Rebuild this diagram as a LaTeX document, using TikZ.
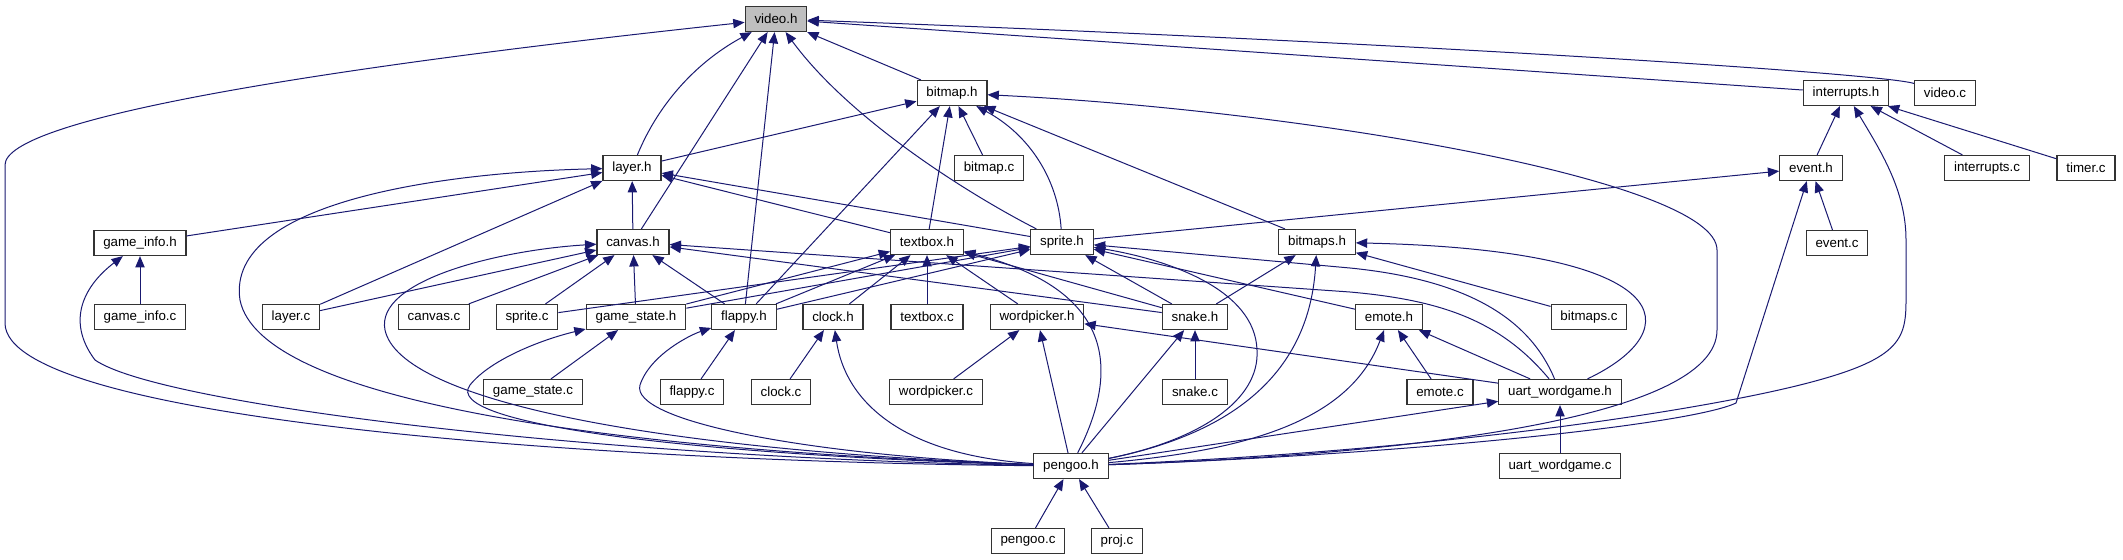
\documentclass[tikz,border=0pt]{standalone}
\usepackage{fontspec}
\setmainfont{Liberation Sans}
\usetikzlibrary{arrows.meta}
\definecolor{edgeblue}{RGB}{25,25,112}
\tikzset{
  file/.style={draw=black!80,line width=0.9pt,fill=white,inner xsep=7pt,inner ysep=0pt,
    minimum height=18.75pt,font=\fontsize{10pt}{12pt}\selectfont},
  cur/.style={file,fill=black!25},
  inc/.style={edgeblue,line width=0.75pt,-{Triangle[length=8.5pt,width=7pt]}}
}
\begin{document}
\begin{tikzpicture}[x=0.75pt,y=-0.75pt]
  \useasboundingbox (0,0) rectangle (2123,560);
  \node[cur] (video) at (776,19) {video.h};
  \node[file] (bitmaph) at (952,93) {bitmap.h};
  \node[file] (interh) at (1846,93) {interrupts.h};
  \node[file] (videoc) at (1945,93) {video.c};
  \node[file] (layerh) at (632,168) {layer.h};
  \node[file] (bitmapc) at (989,168) {bitmap.c};
  \node[file] (eventh) at (1811,168) {event.h};
  \node[file] (interc) at (1987,168) {interrupts.c};
  \node[file] (timerc) at (2086,168) {timer.c};
  \node[file] (gameinfoh) at (140,243) {game\_info.h};
  \node[file] (canvash) at (633,242) {canvas.h};
  \node[file] (textboxh) at (927,242) {textbox.h};
  \node[file] (spriteh) at (1062,242) {sprite.h};
  \node[file] (bitmapsh) at (1317,242) {bitmaps.h};
  \node[file] (eventc) at (1837,243) {event.c};
  \node[file] (gameinfoc) at (140,317) {game\_info.c};
  \node[file] (layerc) at (291,317) {layer.c};
  \node[file] (canvasc) at (434,317) {canvas.c};
  \node[file] (spritec) at (527,317) {sprite.c};
  \node[file] (gamestateh) at (636,317) {game\_state.h};
  \node[file] (flappyh) at (744,317) {flappy.h};
  \node[file] (clockh) at (833,317) {clock.h};
  \node[file] (textboxc) at (927,317) {textbox.c};
  \node[file] (wordpickerh) at (1037,317) {wordpicker.h};
  \node[file] (snakeh) at (1195,317) {snake.h};
  \node[file] (emoteh) at (1389,317) {emote.h};
  \node[file] (bitmapsc) at (1589,317) {bitmaps.c};
  \node[file] (gamestatec) at (533,392) {game\_state.c};
  \node[file] (flappyc) at (692,392) {flappy.c};
  \node[file] (clockc) at (781,392) {clock.c};
  \node[file] (wordpickerc) at (936,392) {wordpicker.c};
  \node[file] (snakec) at (1195,392) {snake.c};
  \node[file] (emotec) at (1440,392) {emote.c};
  \node[file] (uarth) at (1560,392) {uart\_wordgame.h};
  \node[file] (pengooh) at (1071,466) {pengoo.h};
  \node[file] (uartc) at (1560,466) {uart\_wordgame.c};
  \node[file] (pengooc) at (1028,541) {pengoo.c};
  \node[file] (projc) at (1117,541) {proj.c};

  \draw[inc] (pengooh) .. controls (600,462) and (5,420) .. (5,323) -- (5,165) .. controls (5,120) and (300,70) .. (video);
  \draw[inc] (layerh) .. controls (660,100) and (700,60) .. (video);
  \draw[inc] (canvash) -- (video);
  \draw[inc] (flappyh) -- (video);
  \draw[inc] (spriteh) .. controls (970,195) and (850,120) .. (video);
  \draw[inc] (bitmaph) -- (video);
  \draw[inc] (interh) -- (video);
  \draw[inc] (videoc) .. controls (1880,73) and (1400,42) .. (video);

  \draw[inc] (layerh) -- (bitmaph);
  \draw[inc] (flappyh) -- (bitmaph);
  \draw[inc] (textboxh) -- (bitmaph);
  \draw[inc] (bitmapc) -- (bitmaph);
  \draw[inc] (spriteh) .. controls (1058,180) and (1030,135) .. (bitmaph);
  \draw[inc] (bitmapsh) -- (bitmaph);
  \draw[inc] (pengooh) .. controls (1400,455) and (1717,420) .. (1717,330) -- (1717,250) .. controls (1717,180) and (1300,110) .. (bitmaph);

  \draw[inc] (eventh) -- (interh);
  \draw[inc] (interc) -- (interh);
  \draw[inc] (timerc) -- (interh);
  \draw[inc] (pengooh) .. controls (1450,450) and (1700,410) .. (1800,385) .. controls (1900,360) and (1906,340) .. (1906,300) -- (1906,240) .. controls (1906,190) and (1880,150) .. (interh);

  \draw[inc] (gameinfoh) -- (layerh);
  \draw[inc] (layerc) -- (layerh);
  \draw[inc] (canvash) -- (layerh);
  \draw[inc] (textboxh) -- (layerh);
  \draw[inc] (spriteh) -- (layerh);
  \draw[inc] (pengooh) .. controls (600,450) and (260,400) .. (240,300) .. controls (225,200) and (450,172) .. (layerh);

  \draw[inc] (spriteh) -- (eventh);
  \draw[inc] (eventc) -- (eventh);
  \draw[inc] (pengooh) .. controls (1400,455) and (1690,425) .. (1736,403) -- (eventh);

  \draw[inc] (gameinfoc) -- (gameinfoh);
  \draw[inc] (pengooh) .. controls (600,458) and (160,405) .. (95,360) .. controls (65,320) and (85,285) .. (gameinfoh);

  \draw[inc] (layerc) -- (canvash);
  \draw[inc] (canvasc) -- (canvash);
  \draw[inc] (spritec) -- (canvash);
  \draw[inc] (gamestateh) -- (canvash);
  \draw[inc] (flappyh) -- (canvash);
  \draw[inc] (snakeh) -- (canvash);
  \draw[inc] (uarth) .. controls (1500,320) and (1440,300) .. (1350,292) -- (canvash);
  \draw[inc] (pengooh) .. controls (650,450) and (400,400) .. (385,330) .. controls (375,280) and (500,250) .. (canvash);

  \draw[inc] (gamestateh) -- (textboxh);
  \draw[inc] (flappyh) -- (textboxh);
  \draw[inc] (clockh) -- (textboxh);
  \draw[inc] (textboxc) -- (textboxh);
  \draw[inc] (wordpickerh) -- (textboxh);
  \draw[inc] (snakeh) -- (textboxh);
  \draw[inc] (pengooh) .. controls (1120,370) and (1115,290) .. (textboxh);

  \draw[inc] (gamestateh) -- (spriteh);
  \draw[inc] (flappyh) -- (spriteh);
  \draw[inc] (spritec) -- (spriteh);
  \draw[inc] (snakeh) -- (spriteh);
  \draw[inc] (emoteh) -- (spriteh);
  \draw[inc] (uarth) .. controls (1530,320) and (1470,280) .. (1350,268) -- (spriteh);
  \draw[inc] (pengooh) .. controls (1200,440) and (1260,400) .. (1257,350) .. controls (1255,290) and (1170,260) .. (spriteh);

  \draw[inc] (snakeh) -- (bitmapsh);
  \draw[inc] (bitmapsc) -- (bitmapsh);
  \draw[inc] (uarth) .. controls (1690,330) and (1680,250) .. (bitmapsh);
  \draw[inc] (pengooh) .. controls (1250,430) and (1310,360) .. (bitmapsh);

  \draw[inc] (gamestatec) -- (gamestateh);
  \draw[inc] (pengooh) .. controls (700,455) and (440,425) .. (470,385) .. controls (490,360) and (540,340) .. (gamestateh);
  \draw[inc] (flappyc) -- (flappyh);
  \draw[inc] (pengooh) .. controls (800,455) and (630,420) .. (640,385) .. controls (650,355) and (690,335) .. (flappyh);
  \draw[inc] (clockc) -- (clockh);
  \draw[inc] (pengooh) .. controls (900,455) and (845,400) .. (clockh);
  \draw[inc] (wordpickerc) -- (wordpickerh);
  \draw[inc] (pengooh) -- (wordpickerh);
  \draw[inc] (uarth) -- (wordpickerh);
  \draw[inc] (snakec) -- (snakeh);
  \draw[inc] (pengooh) -- (snakeh);
  \draw[inc] (emotec) -- (emoteh);
  \draw[inc] (uarth) -- (emoteh);
  \draw[inc] (pengooh) .. controls (1250,450) and (1350,420) .. (emoteh);
  \draw[inc] (uartc) -- (uarth);
  \draw[inc] (pengooh) -- (uarth);
  \draw[inc] (pengooc) -- (pengooh);
  \draw[inc] (projc) -- (pengooh);
\end{tikzpicture}
\end{document}
